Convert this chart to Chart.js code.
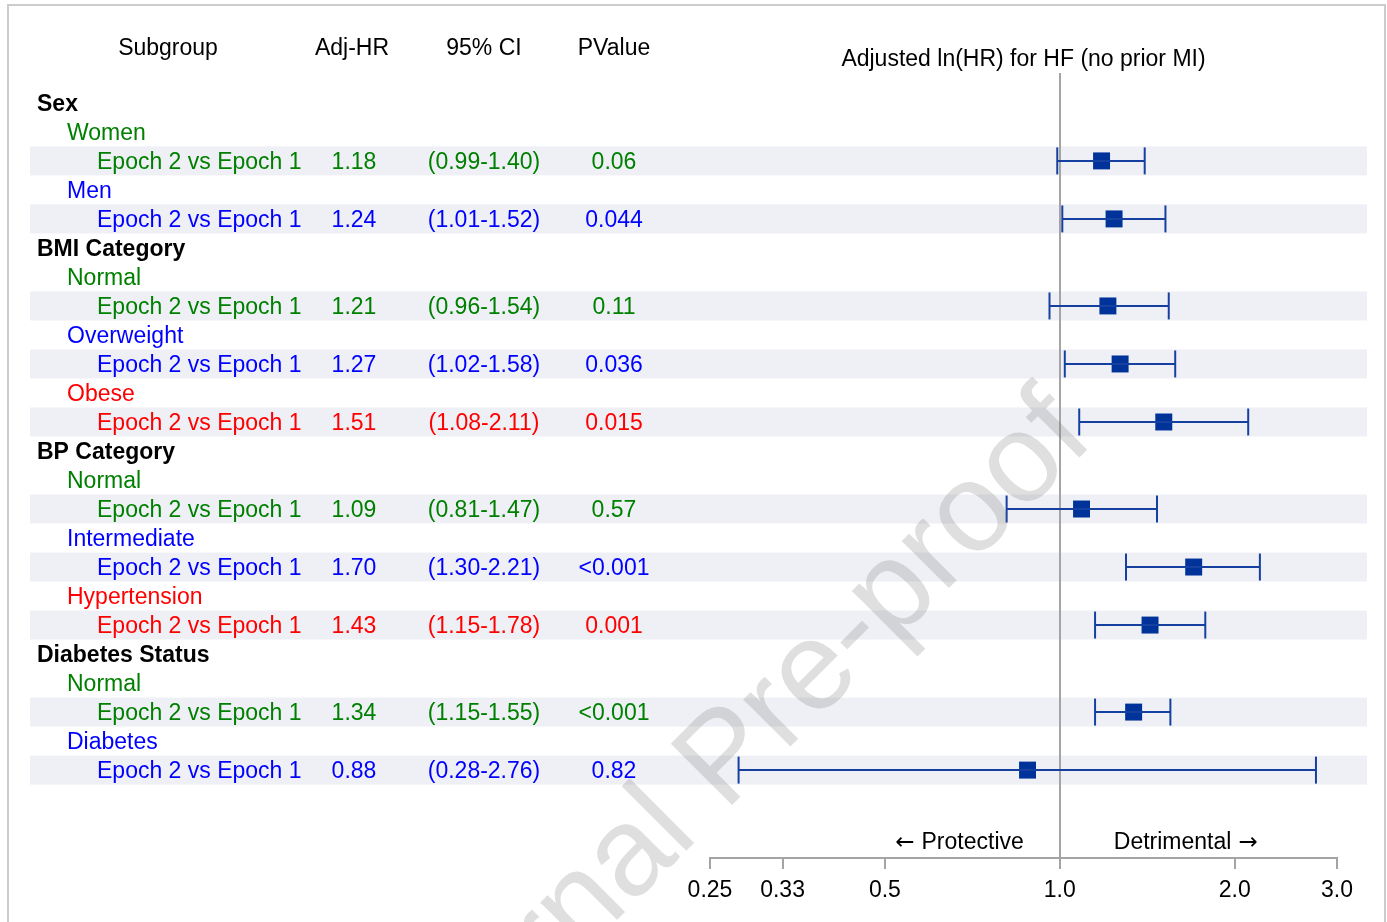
<!DOCTYPE html>
<html>
<head>
<meta charset="utf-8">
<title>Adjusted ln(HR) for HF (no prior MI)</title>
<script src="https://cdn.jsdelivr.net/npm/chart.js@4/dist/chart.umd.min.js"></script>
<style>
  html, body { margin: 0; padding: 0; background: #ffffff; }
  #wrap { width: 1387px; height: 922px; position: relative; overflow: hidden; }
</style>
</head>
<body>
<div id="wrap"><canvas id="forest" width="1387" height="922"></canvas></div>
<script>
// ---- table rows (top to bottom) ----
const rowLabels = [
  'Sex', 'Women', 'Epoch 2 vs Epoch 1', 'Men', 'Epoch 2 vs Epoch 1',
  'BMI Category', 'Normal', 'Epoch 2 vs Epoch 1', 'Overweight', 'Epoch 2 vs Epoch 1',
  'Obese', 'Epoch 2 vs Epoch 1',
  'BP Category', 'Normal', 'Epoch 2 vs Epoch 1', 'Intermediate', 'Epoch 2 vs Epoch 1',
  'Hypertension', 'Epoch 2 vs Epoch 1',
  'Diabetes Status', 'Normal', 'Epoch 2 vs Epoch 1', 'Diabetes', 'Epoch 2 vs Epoch 1'
];
const rowIndent = [0,1,2,1,2, 0,1,2,1,2,1,2, 0,1,2,1,2,1,2, 0,1,2,1,2];
const rowTone   = ['k','g','g','b','b', 'k','g','g','b','b','r','r', 'k','g','g','b','b','r','r', 'k','g','g','b','b'];

// ---- estimates (one per comparison row) ----
const estimateRow = [2, 4, 7, 9, 11, 14, 16, 18, 21, 23];
const adjHR   = [1.18, 1.24, 1.21, 1.27, 1.51, 1.09, 1.70, 1.43, 1.34, 0.88];
const ciLower = [0.99, 1.01, 0.96, 1.02, 1.08, 0.81, 1.30, 1.15, 1.15, 0.28];
const ciUpper = [1.40, 1.52, 1.54, 1.58, 2.11, 1.47, 2.21, 1.78, 1.55, 2.76];
const pValue  = ['0.06', '0.044', '0.11', '0.036', '0.015', '0.57', '<0.001', '0.001', '<0.001', '0.82'];

// ---- x axis ----
const tickValues = [0.25, 0.3333, 0.5, 1, 2, 3];
const tickLabels = ['0.25', '0.33', '0.5', '1.0', '2.0', '3.0'];

const columnHeaders = ['Subgroup', 'Adj-HR', '95% CI', 'PValue'];
const plotTitle = 'Adjusted ln(HR) for HF (no prior MI)';

// ---- styling ----
const FONT = '"Liberation Sans", Arial, Helvetica, sans-serif';
const ARROW_FONT = '"DejaVu Sans", sans-serif';
const FS = 23;
const TEXT_DY = 2; // nudge for canvas 'middle' baseline
const toneColor = { k: '#000000', g: '#008000', b: '#0000ff', r: '#ff0000' };
const markColor = '#00339a';
const barColor = '#1540a0';
const refGray = '#a4a4a4';
const bandColor = '#eff0f5';
const indentX = [37, 67, 97];
const colCenters = { hr: 354, ci: 484, p: 614 };
const headerCenters = [168, 352, 484, 614];

// error-bar segments: lower -> upper, broken by a gap between rows
const barPoints = [];
estimateRow.forEach((r, i) => {
  barPoints.push({ x: ciLower[i], y: r }, { x: ciUpper[i], y: r }, { x: null, y: null });
});
const markPoints = estimateRow.map((r, i) => ({ x: adjHR[i], y: r }));

const tablePlugin = {
  id: 'forestTable',
  beforeDraw(chart) {
    const { ctx } = chart;
    const y = chart.scales.y;
    ctx.save();
    ctx.fillStyle = '#ffffff';
    ctx.fillRect(0, 0, chart.width, chart.height);
    // shaded comparison rows
    ctx.fillStyle = bandColor;
    estimateRow.forEach(r => {
      const top = y.getPixelForValue(r - 0.5);
      const bot = y.getPixelForValue(r + 0.5);
      ctx.fillRect(30, top, 1337, bot - top);
    });
    ctx.restore();
  },
  afterDraw(chart) {
    const { ctx, chartArea } = chart;
    const x = chart.scales.x;
    const y = chart.scales.y;
    ctx.save();
    ctx.textBaseline = 'middle';
    // column headers
    ctx.font = FS + 'px ' + FONT;
    ctx.fillStyle = '#000000';
    ctx.textAlign = 'center';
    columnHeaders.forEach((h, i) => ctx.fillText(h, headerCenters[i], 47 + TEXT_DY));
    ctx.fillText(plotTitle, (chartArea.left + chartArea.right) / 2, 58 + TEXT_DY);

    // subgroup labels
    rowLabels.forEach((lab, r) => {
      ctx.font = (rowIndent[r] === 0 ? 'bold ' : '') + FS + 'px ' + FONT;
      ctx.fillStyle = toneColor[rowTone[r]];
      ctx.textAlign = 'left';
      ctx.fillText(lab, indentX[rowIndent[r]], y.getPixelForValue(r) + TEXT_DY);
    });

    // numeric columns
    ctx.font = FS + 'px ' + FONT;
    ctx.textAlign = 'center';
    estimateRow.forEach((r, i) => {
      const py = y.getPixelForValue(r) + TEXT_DY;
      ctx.fillStyle = toneColor[rowTone[r]];
      ctx.fillText(adjHR[i].toFixed(2), colCenters.hr, py);
      ctx.fillText('(' + ciLower[i].toFixed(2) + '-' + ciUpper[i].toFixed(2) + ')', colCenters.ci, py);
      ctx.fillText(pValue[i], colCenters.p, py);
    });

    // direction captions either side of the null line
    const x1 = x.getPixelForValue(1);
    const capY = 841 + TEXT_DY;
    ctx.fillStyle = '#000000';
    ctx.textAlign = 'right';
    ctx.font = FS + 'px ' + FONT;
    const protW = ctx.measureText('Protective').width;
    ctx.fillText('Protective', x1 - 36, capY);
    ctx.font = FS + 'px ' + ARROW_FONT;
    ctx.fillText('\u2190', x1 - 36 - protW - 7, capY);
    ctx.textAlign = 'left';
    ctx.font = FS + 'px ' + FONT;
    const detW = ctx.measureText('Detrimental').width;
    ctx.fillText('Detrimental', x1 + 54, capY);
    ctx.font = FS + 'px ' + ARROW_FONT;
    ctx.fillText('\u2192', x1 + 54 + detW + 7, capY);

    // watermark
    ctx.save();
    ctx.translate(752, 785);
    ctx.rotate(-Math.PI / 4);
    ctx.font = '126px ' + FONT;
    ctx.fillStyle = 'rgba(110,110,110,0.22)';
    ctx.textAlign = 'center';
    ctx.textBaseline = 'alphabetic';
    ctx.fillText('Journal Pre-proof', 0, 0);
    ctx.restore();

    // outer frame
    ctx.strokeStyle = '#cccccc';
    ctx.lineWidth = 2;
    ctx.strokeRect(8, 5, 1377, 960);
    ctx.restore();
  }
};

new Chart(document.getElementById('forest'), {
  type: 'scatter',
  data: {
    datasets: [
      {
        label: 'CI',
        data: barPoints,
        showLine: true,
        spanGaps: false,
        borderColor: barColor,
        borderWidth: 2,
        pointStyle: 'line',
        rotation: 90,
        pointRadius: 13.5,
        pointBorderWidth: 2,
        pointBorderColor: barColor,
        pointHoverRadius: 13.5
      },
      {
        label: 'Adj-HR',
        data: markPoints,
        pointStyle: 'rect',
        pointRadius: 12,
        pointHoverRadius: 12,
        pointBackgroundColor: markColor,
        pointBorderWidth: 0,
        borderWidth: 0
      }
    ]
  },
  options: {
    responsive: false,
    animation: false,
    devicePixelRatio: 1,
    events: [],
    layout: { padding: { left: 710, right: 50, top: 73, bottom: 0 } },
    plugins: { legend: { display: false }, tooltip: { enabled: false }, title: { display: false } },
    scales: {
      x: {
        type: 'logarithmic',
        position: 'bottom',
        min: 0.25,
        max: 3,
        afterBuildTicks(scale) { scale.ticks = tickValues.map(v => ({ value: v })); },
        afterFit(scale) { scale.height = 64; },
        ticks: {
          autoSkip: false,
          maxRotation: 0,
          padding: 8,
          color: '#000000',
          font: { family: FONT, size: FS },
          callback: (v, i) => tickLabels[i]
        },
        grid: {
          drawOnChartArea: true,
          color: ctx => (ctx.tick && ctx.tick.value === 1 ? refGray : 'rgba(0,0,0,0)'),
          tickColor: refGray,
          tickLength: 11,
          lineWidth: 2
        },
        border: { display: true, color: refGray, width: 2 }
      },
      y: {
        type: 'linear',
        reverse: true,
        min: -1.03,
        max: 26.03,
        display: false
      }
    }
  },
  plugins: [tablePlugin]
});
</script>
</body>
</html>
